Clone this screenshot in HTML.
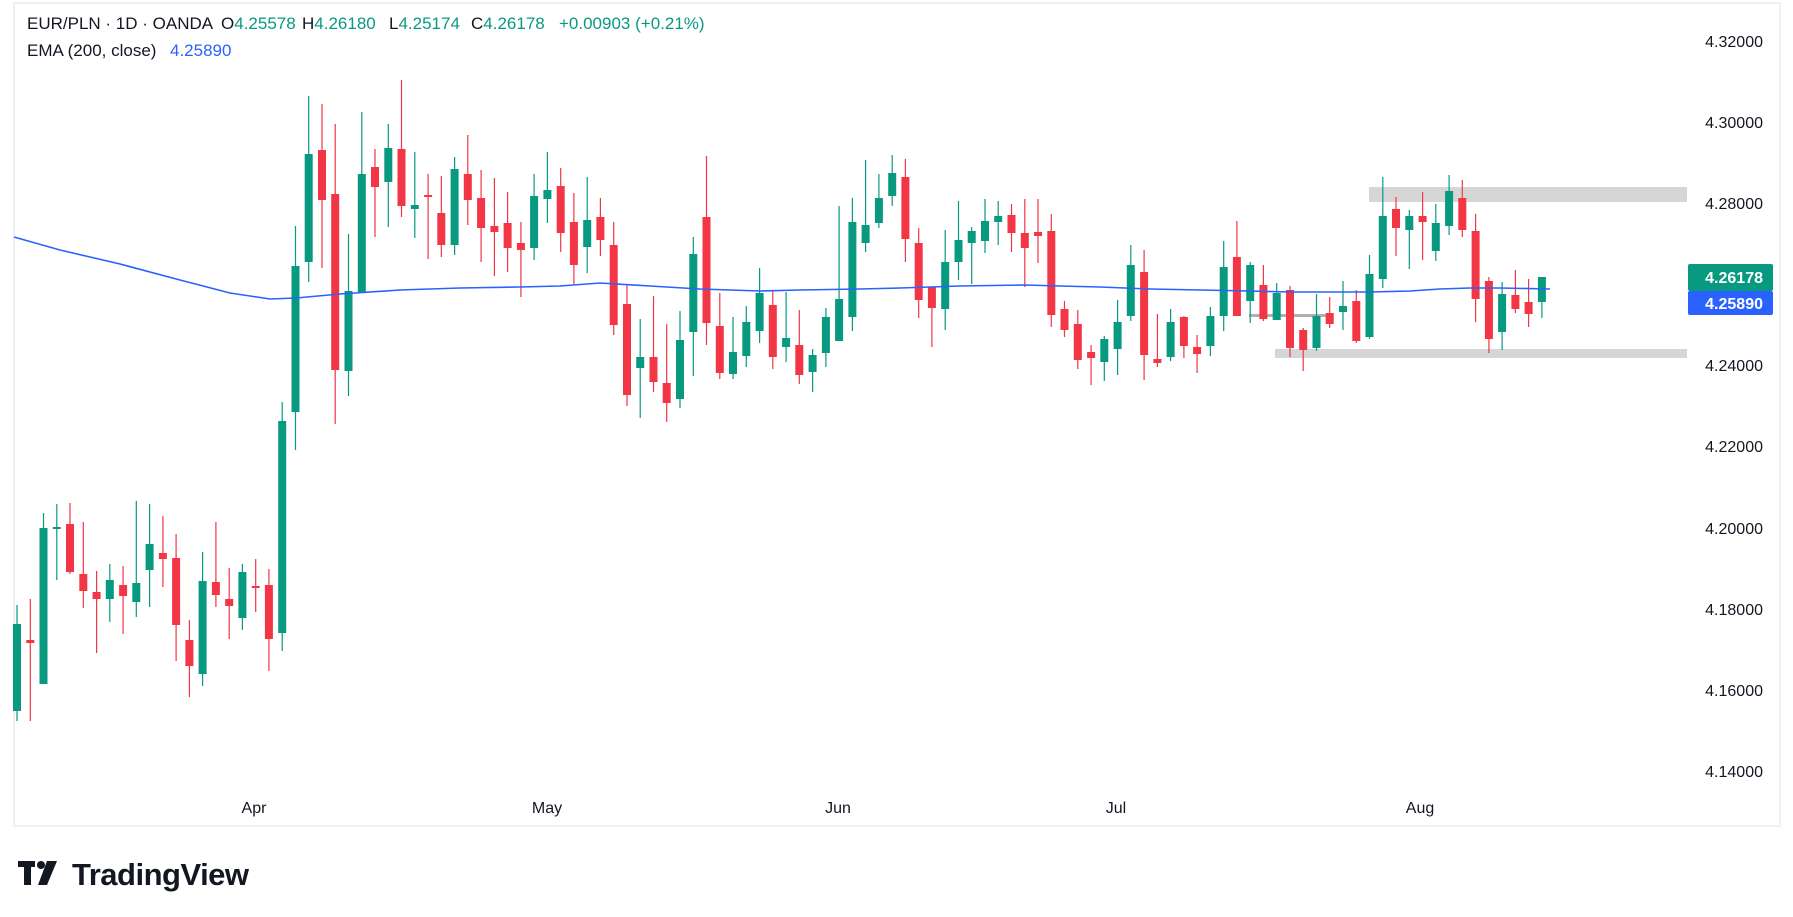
<!DOCTYPE html>
<html><head><meta charset="utf-8">
<style>
html,body{margin:0;padding:0;background:#fff;width:1793px;height:917px;overflow:hidden}
svg{display:block}
text{font-family:"Liberation Sans",Arial,sans-serif}
</style></head>
<body>
<svg id="s" width="1793" height="917" xmlns="http://www.w3.org/2000/svg">
<rect x="0" y="0" width="1793" height="917" fill="#fff"/>
<rect x="14" y="3" width="1766" height="823" fill="none" stroke="#eef0f3" stroke-width="2"/>
<rect x="1369" y="187" width="318" height="15" fill="#d6d6d6"/>
<rect x="1275" y="349" width="412" height="9" fill="#d6d6d6"/>
<rect x="1249" y="314" width="77" height="3" fill="#b0b0b0"/>
<g id="c"></g>
<polyline fill="none" stroke="#2962ff" stroke-width="1.6" points="14,237 60,250 120,264 180,280 230,293 270,299 296,298 340,294 400,290 460,288 520,287 560,286 600,283 650,286 700,289 760,291 800,290 860,289 900,288 960,286 1025,285 1060,286 1100,287 1150,289 1200,290 1250,291 1290,292 1330,292 1370,292 1410,291 1440,289 1470,288 1500,288 1550,289"/>
<g font-size="16" fill="#131722" text-anchor="end">
<text x="1763" y="47">4.32000</text>
<text x="1763" y="128">4.30000</text>
<text x="1763" y="209">4.28000</text>
<text x="1763" y="371">4.24000</text>
<text x="1763" y="452">4.22000</text>
<text x="1763" y="534">4.20000</text>
<text x="1763" y="615">4.18000</text>
<text x="1763" y="696">4.16000</text>
<text x="1763" y="777">4.14000</text>
</g>
<rect x="1688" y="264" width="85" height="27" fill="#089981" rx="2"/>
<rect x="1688" y="291" width="85" height="24" fill="#2962ff" rx="2"/>
<g font-size="16" fill="#fff" font-weight="bold" text-anchor="end">
<text x="1763" y="283">4.26178</text>
<text x="1763" y="309">4.25890</text>
</g>
<g font-size="16" fill="#131722" text-anchor="middle">
<text x="254" y="813">Apr</text>
<text x="547" y="813">May</text>
<text x="838" y="813">Jun</text>
<text x="1116" y="813">Jul</text>
<text x="1420" y="813">Aug</text>
</g>
<g font-size="17" fill="#131722">
<text x="27" y="29">EUR/PLN · 1D · OANDA</text>
<text x="221" y="29">O<tspan fill="#089981">4.25578</tspan></text>
<text x="302" y="29">H<tspan fill="#089981">4.26180</tspan></text>
<text x="389" y="29">L<tspan fill="#089981">4.25174</tspan></text>
<text x="471" y="29">C<tspan fill="#089981">4.26178</tspan></text>
<text x="559" y="29" fill="#089981">+0.00903 (+0.21%)</text>
<text x="27" y="56">EMA (200, close)</text>
<text x="170" y="56" fill="#2962ff">4.25890</text>
</g>
<g fill="#131722">
<rect x="18" y="861" width="17" height="6"/>
<rect x="24" y="861" width="7" height="24"/>
<circle cx="41" cy="865" r="4"/>
<polygon points="47,861 57,861 47,885 38,885"/>
</g>
<text x="72" y="885" font-size="31" font-weight="bold" fill="#131722" letter-spacing="-0.5">TradingView</text>
</svg>
<script>
var d=[
['g',624,711,605,721],['r',640,643,599,721],['g',528,684,513,684],['g',527,529,504,580],['r',524,572,503,574],
['r',574,591,522,608],['r',592,599,571,653],['g',580,599,564,622],['r',585,596,566,634],['g',583,602,501,617],
['g',544,570,504,607],['r',553,559,516,587],['r',558,625,534,661],['r',640,666,620,697],['g',581,674,552,686],
['r',582,595,522,607],['r',599,606,568,639],['g',572,618,564,630],['r',586,588,559,612],['r',585,639,569,671],
['g',421,633,402,651],['g',266,412,226,450],['g',154,262,96,282],['r',150,200,104,268],['r',194,370,124,424],
['g',291,371,234,396],['g',174,292,112,292],['r',167,187,149,237],['g',148,182,124,227],['r',149,206,80,217],
['g',205,209,152,238],['r',195,197,174,259],['r',213,245,176,257],['g',169,245,157,255],['r',174,200,135,225],
['r',198,228,170,262],['r',226,232,178,276],['r',223,248,192,272],['r',243,250,222,297],['g',196,248,174,260],
['g',190,199,152,223],['r',186,233,168,252],['r',222,265,193,284],['g',220,247,177,273],['r',217,240,198,256],
['r',245,325,222,335],['r',304,395,284,406],['g',357,368,319,418],['r',357,382,296,392],['r',383,403,324,422],
['g',340,399,311,408],['g',254,332,237,376],['r',217,323,156,345],['r',326,373,293,379],['g',352,374,317,379],
['g',322,356,306,367],['g',293,331,268,343],['r',305,357,290,369],['g',338,347,292,362],['r',345,375,310,384],
['g',355,372,349,392],['g',317,353,308,367],['g',299,341,206,341],['g',222,317,198,331],['g',225,243,160,252],
['g',198,223,174,228],['g',173,196,155,206],['r',177,239,159,262],['r',243,300,228,318],['r',287,308,287,347],
['g',262,309,230,330],['g',240,262,201,280],['g',231,243,227,284],['g',221,241,199,253],['g',216,222,201,245],
['r',215,233,204,252],['r',233,248,199,287],['r',232,236,199,263],['r',231,315,214,327],['r',309,330,301,337],
['r',324,360,310,369],['r',352,358,345,385],['g',339,362,336,381],['g',322,349,300,375],['g',265,316,245,321],
['r',272,355,250,380],['r',359,363,314,367],['g',322,357,309,361],['r',317,346,316,358],['r',347,354,335,373],
['g',316,346,307,356],['g',267,316,241,331],['r',257,316,221,316],['g',265,301,262,323],['r',285,319,265,321],
['g',293,320,283,320],['r',290,348,286,357],['r',330,350,328,371],['g',316,348,294,351],['r',313,324,297,328],
['g',306,312,281,330],['r',301,341,290,343],['g',274,337,255,339],['g',216,279,177,288],['r',209,228,197,256],
['g',216,230,210,269],['r',216,222,192,260],['g',223,251,204,261],['g',191,226,175,235],['r',198,230,180,237],
['r',231,299,214,322],['r',281,339,277,353],['g',294,332,282,350],['r',295,309,270,313],['r',302,314,279,327],
['g',277,302,277,318]];
var h='';
for(var i=0;i<d.length;i++){var c=d[i],x=17+13.26*i,col=c[0]=='g'?'#089981':'#f23645';
var bh=Math.max(2,c[2]-c[1]);
h+='<line x1="'+x.toFixed(1)+'" x2="'+x.toFixed(1)+'" y1="'+c[3]+'" y2="'+c[4]+'" stroke="'+col+'" stroke-width="1.2"/>';
h+='<rect x="'+(x-4).toFixed(1)+'" y="'+c[1]+'" width="8" height="'+bh+'" fill="'+col+'"/>';}
document.getElementById('c').innerHTML=h;
</script>
</body></html>
